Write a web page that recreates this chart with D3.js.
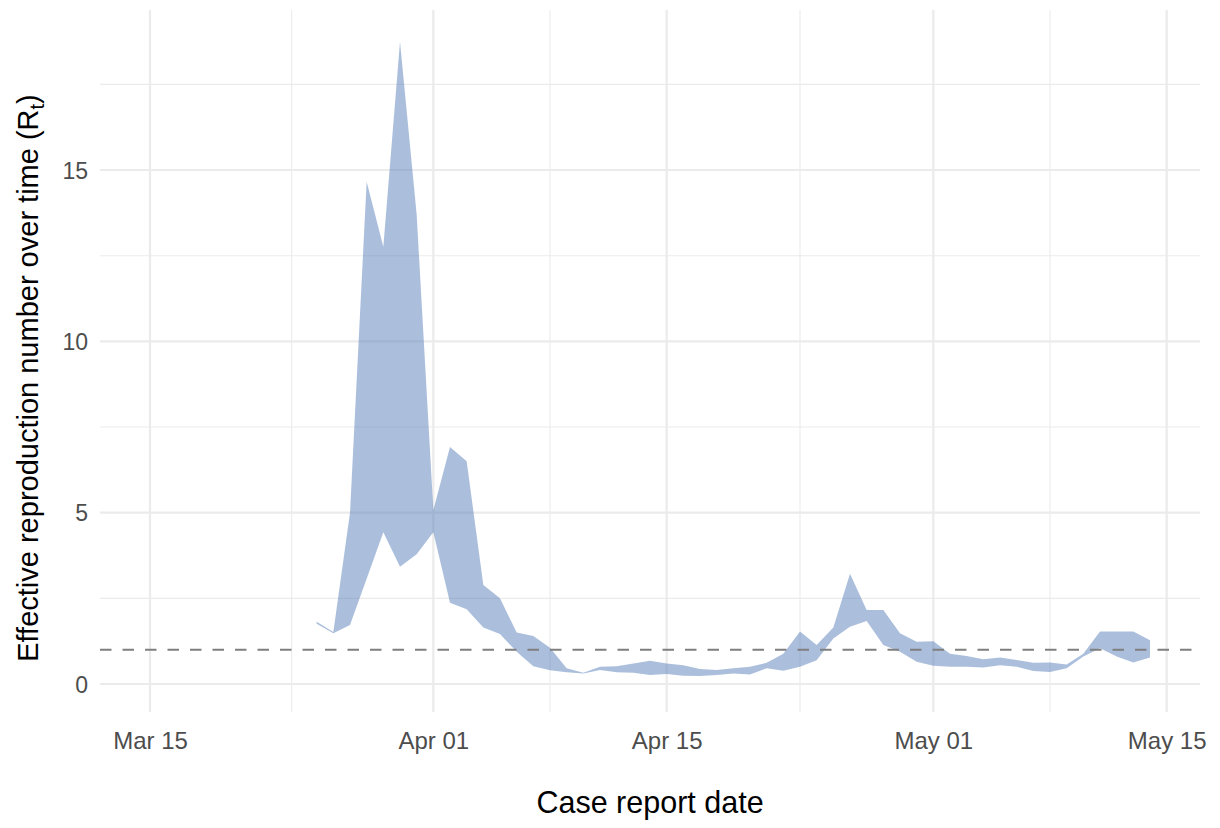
<!DOCTYPE html>
<html>
<head>
<meta charset="utf-8">
<script src="https://cdn.jsdelivr.net/npm/d3@7"></script>
<style>
  html, body { margin: 0; padding: 0; background: #fff; }
  svg { display: block; font-family: "Liberation Sans", Arial, Helvetica, sans-serif; }
</style>
</head>
<body>
<svg id="chart" width="1220" height="828"></svg>
<script>
// ---- data ----
const dates = [
  "2020-03-25","2020-03-26","2020-03-27","2020-03-28","2020-03-29","2020-03-30","2020-03-31",
  "2020-04-01","2020-04-02","2020-04-03","2020-04-04","2020-04-05","2020-04-06","2020-04-07",
  "2020-04-08","2020-04-09","2020-04-10","2020-04-11","2020-04-12","2020-04-13","2020-04-14",
  "2020-04-15","2020-04-16","2020-04-17","2020-04-18","2020-04-19","2020-04-20","2020-04-21",
  "2020-04-22","2020-04-23","2020-04-24","2020-04-25","2020-04-26","2020-04-27","2020-04-28",
  "2020-04-29","2020-04-30","2020-05-01","2020-05-02","2020-05-03","2020-05-04","2020-05-05",
  "2020-05-06","2020-05-07","2020-05-08","2020-05-09","2020-05-10","2020-05-11","2020-05-12",
  "2020-05-13","2020-05-14"
];
const upper = [
  1.82, 1.52, 5.0, 14.66, 12.76, 18.74, 13.7,
  5.08, 6.92, 6.5, 2.89, 2.5, 1.5, 1.4,
  1.06, 0.46, 0.33, 0.5, 0.52, 0.6, 0.68,
  0.6, 0.55, 0.44, 0.41, 0.46, 0.5, 0.62,
  0.88, 1.53, 1.14, 1.65, 3.22, 2.16, 2.16,
  1.48, 1.23, 1.25, 0.88, 0.82, 0.72, 0.77,
  0.7, 0.62, 0.63, 0.57, 0.88, 1.53, 1.53,
  1.53, 1.28
];
const lower = [
  1.76, 1.48, 1.72, 3.07, 4.43, 3.42, 3.79,
  4.43, 2.37, 2.18, 1.65, 1.46, 0.94, 0.52,
  0.4, 0.34, 0.31, 0.41, 0.34, 0.33, 0.26,
  0.29, 0.24, 0.23, 0.26, 0.31, 0.28, 0.46,
  0.39, 0.5, 0.69, 1.33, 1.67, 1.84, 1.14,
  0.94, 0.65, 0.53, 0.5, 0.5, 0.48, 0.55,
  0.5, 0.38, 0.35, 0.46, 0.8, 1.04, 0.8,
  0.63, 0.77
];
const xDomain = ["2020-03-12", "2020-05-17"];
const yDomain = [-0.817, 19.67];
const xTicks = ["2020-03-15","2020-04-01","2020-04-15","2020-05-01","2020-05-15"];
const xMinor = ["2020-03-23T12:00","2020-04-08","2020-04-23","2020-05-08"];
const yTicks = [0, 5, 10, 15];
const yMinor = [2.5, 7.5, 12.5, 17.5];
const threshold = 1;
const xTitle = "Case report date";

// ---- layout ----
const parse = s => new Date(s.length > 10 ? s : s + "T00:00");
const panel = { left: 100, right: 1200, top: 10, bottom: 712 };
const svg = d3.select("#chart");

const x = d3.scaleTime().domain(xDomain.map(parse)).range([panel.left, panel.right]);
const y = d3.scaleLinear().domain(yDomain).range([panel.bottom, panel.top]);

const data = dates.map((d, i) => ({ date: parse(d), lo: lower[i], hi: upper[i] }));

const grid = svg.append("g");
// minor grid
grid.selectAll(".ymin").data(yMinor).join("line")
  .attr("x1", panel.left).attr("x2", panel.right)
  .attr("y1", d => y(d)).attr("y2", d => y(d))
  .attr("stroke", "#ebebeb").attr("stroke-width", 1.1);
grid.selectAll(".xmin").data(xMinor.map(parse)).join("line")
  .attr("y1", panel.top).attr("y2", panel.bottom)
  .attr("x1", d => x(d)).attr("x2", d => x(d))
  .attr("stroke", "#ebebeb").attr("stroke-width", 1.1);
// major grid
grid.selectAll(".ymaj").data(yTicks).join("line")
  .attr("x1", panel.left).attr("x2", panel.right)
  .attr("y1", d => y(d)).attr("y2", d => y(d))
  .attr("stroke", "#ebebeb").attr("stroke-width", 2.2);
grid.selectAll(".xmaj").data(xTicks.map(parse)).join("line")
  .attr("y1", panel.top).attr("y2", panel.bottom)
  .attr("x1", d => x(d)).attr("x2", d => x(d))
  .attr("stroke", "#ebebeb").attr("stroke-width", 2.2);

// ribbon
const area = d3.area()
  .x(d => x(d.date))
  .y0(d => y(d.lo))
  .y1(d => y(d.hi));
svg.append("path").datum(data)
  .attr("d", area)
  .attr("fill", "rgb(80,122,184)")
  .attr("fill-opacity", 0.48);

// threshold line
svg.append("line")
  .attr("x1", panel.left).attr("x2", panel.right)
  .attr("y1", y(threshold)).attr("y2", y(threshold))
  .attr("stroke", "#7f7f7f").attr("stroke-width", 2.2)
  .attr("stroke-dasharray", "11.5,11");

// axes (text only, no lines/ticks)
const xAxis = d3.axisBottom(x).tickValues(xTicks.map(parse))
  .tickFormat(d3.timeFormat("%b %d")).tickSize(0).tickPadding(0);
const gx = svg.append("g").attr("transform", `translate(0,${panel.bottom})`).call(xAxis);
gx.select(".domain").remove();
gx.selectAll("text").attr("y", 37).attr("dy", 0)
  .attr("font-size", 24).attr("fill", "#4d4d4d")
  .attr("font-family", "Liberation Sans, Arial, sans-serif");

const yAxis = d3.axisLeft(y).tickValues(yTicks).tickSize(0).tickPadding(0);
const gy = svg.append("g").attr("transform", `translate(${panel.left},0)`).call(yAxis);
gy.select(".domain").remove();
gy.selectAll("text").attr("x", -12).attr("dy", "0.35em")
  .attr("font-size", 23).attr("fill", "#4d4d4d")
  .attr("font-family", "Liberation Sans, Arial, sans-serif");

// titles
svg.append("text")
  .attr("x", (panel.left + panel.right) / 2).attr("y", 813)
  .attr("text-anchor", "middle").attr("font-size", 30.5).attr("fill", "#000")
  .text(xTitle);

const yt = svg.append("text")
  .attr("transform", `translate(38,378) rotate(-90)`)
  .attr("text-anchor", "middle").attr("font-size", 29).attr("fill", "#000");
yt.append("tspan").text("Effective reproduction number over time (R");
yt.append("tspan").attr("font-size", 20).attr("dy", 6).text("t");
yt.append("tspan").attr("dy", -6).text(")");
</script>
</body>
</html>
